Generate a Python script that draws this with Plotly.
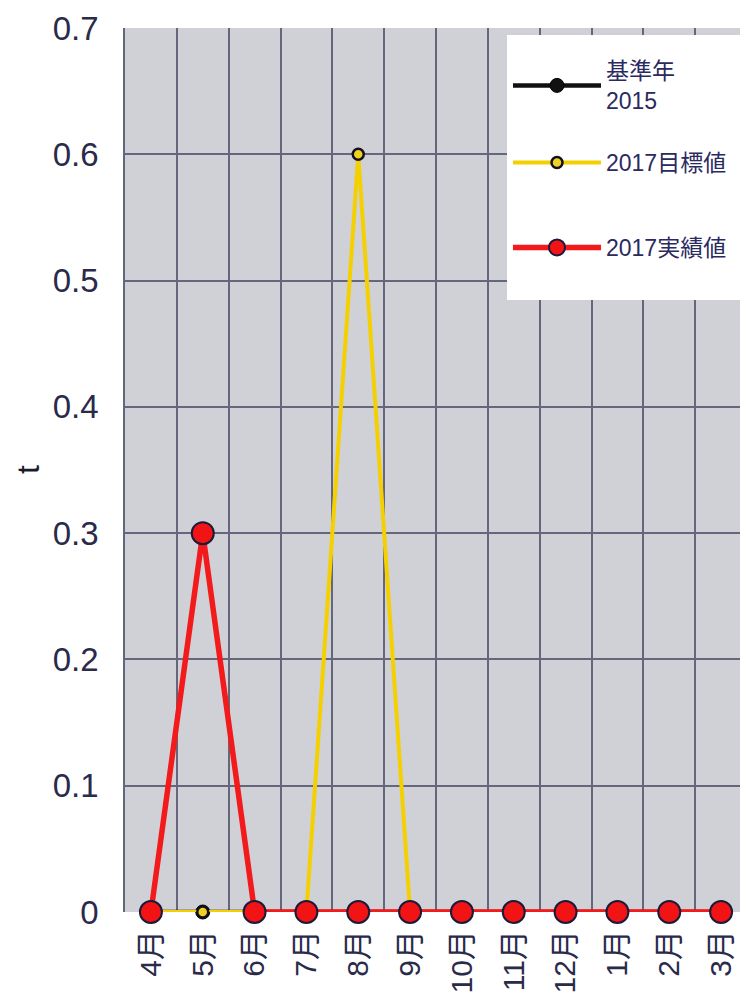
import plotly.graph_objects as go

months = ["4月", "5月", "6月", "7月", "8月", "9月", "10月", "11月", "12月", "1月", "2月", "3月"]
base_2015 = [0, 0, 0, 0, 0, 0, 0, 0, 0, 0, 0, 0]
target_2017 = [0, 0, 0, 0, 0.6, 0, 0, 0, 0, 0, 0, 0]
actual_2017 = [0, 0.3, 0, 0, 0, 0, 0, 0, 0, 0, 0, 0]
y_ticks = [0, 0.1, 0.2, 0.3, 0.4, 0.5, 0.6, 0.7]
y_tick_labels = ["0", "0.1", "0.2", "0.3", "0.4", "0.5", "0.6", "0.7"]

FONT = "Liberation Sans, Arial, Noto Sans CJK JP, sans-serif"
TXT = "#2a2a4a"

# page has an 8px body margin; figure sized so it fits in the 748x1002 window
W, H = 740, 994
L, T, R = 117, 20, 1
PW = W - L - R
B = 90
PH = H - T - B


def px_x(x):
    return (x - 8 - L) / PW


def px_y(y):
    return 1 - (y - 8 - T) / PH


fig = go.Figure()
fig.add_trace(go.Scatter(
    x=months, y=base_2015, name="基準年<br>2015", mode="lines+markers",
    line=dict(color="#111111", width=4.5),
    marker=dict(color="#111111", size=14, line=dict(color="#000000", width=1)),
    cliponaxis=False, legend="legend"))
fig.add_trace(go.Scatter(
    x=months, y=target_2017, name="2017目標値", mode="lines+markers",
    line=dict(color="#f5d000", width=4),
    marker=dict(color="#f0d020", size=11, line=dict(color="#101020", width=2.5)),
    cliponaxis=False, legend="legend2"))
fig.add_trace(go.Scatter(
    x=months, y=actual_2017, name="2017実績値", mode="lines+markers",
    line=dict(color="#f21a1a", width=5.5),
    marker=dict(color="#f21414", size=22, line=dict(color="#1a1a3a", width=2)),
    cliponaxis=False, legend="legend3"))

fig.add_annotation(text="t", xref="paper", yref="paper", x=px_x(28), y=0.5,
                   xanchor="center", yanchor="middle",
                   showarrow=False, textangle=-90, font=dict(size=32, color="#1a1a2a", family=FONT))

# white legend panel
fig.add_shape(type="rect", xref="paper", yref="paper",
              x0=px_x(507), x1=px_x(741), y0=px_y(300), y1=px_y(35),
              fillcolor="white", line=dict(width=0), layer="above")

leg_common = dict(
    xanchor="left", yanchor="top",
    bgcolor="rgba(255,255,255,0)", borderwidth=0,
    font=dict(size=23, color="#2a2a60", family=FONT),
    itemwidth=88, itemclick=False, itemdoubleclick=False,
)

fig.update_layout(
    width=W, height=H,
    margin=dict(l=L, r=R, t=T, b=B, autoexpand=False),
    paper_bgcolor="white",
    plot_bgcolor="#d0d0d7",
    font=dict(family=FONT, color=TXT),
    showlegend=True,
    legend=dict(x=px_x(508), y=px_y(49), **leg_common),
    legend2=dict(x=px_x(508), y=px_y(141), **leg_common),
    legend3=dict(x=px_x(508), y=px_y(226), **leg_common),
    xaxis=dict(
        type="category", categoryorder="array", categoryarray=months,
        range=[-0.5, 11.5], tickson="boundaries",
        showgrid=True, gridcolor="#65657c", gridwidth=1.5,
        tickangle=-90, ticks="", tickfont=dict(size=30, color=TXT),
        ticklabelstandoff=11, automargin=False,
        showline=False, zeroline=False,
    ),
    yaxis=dict(
        range=[0, 0.7], tickvals=y_ticks, ticktext=y_tick_labels,
        showgrid=True, gridcolor="#65657c", gridwidth=1.5,
        tickfont=dict(size=33, color=TXT), ticks="",
        ticklabelstandoff=18, automargin=False,
        showline=True, linecolor="#65657c", linewidth=1.5, mirror=False,
        zeroline=False,
    ),
)

fig.write_html("out.html")
